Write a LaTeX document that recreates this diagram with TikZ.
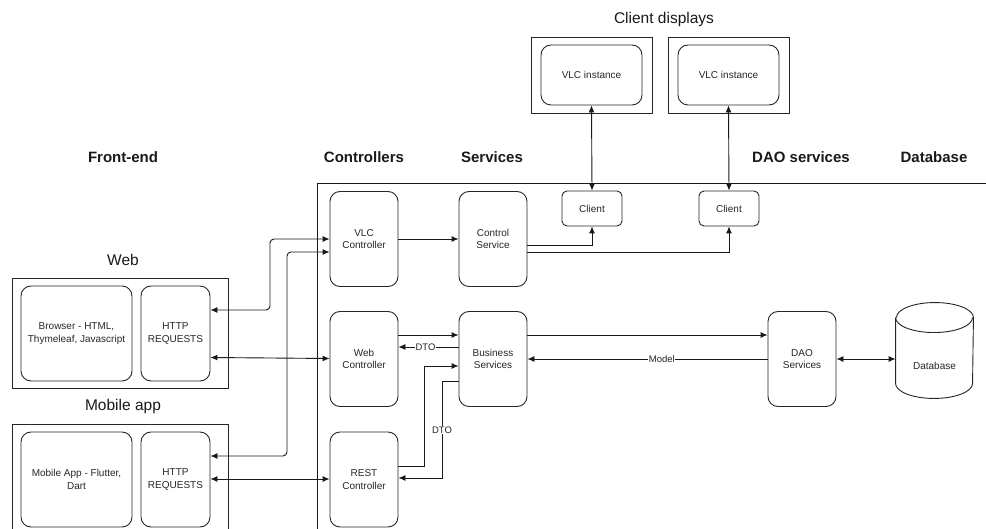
\documentclass[tikz,border=0pt]{standalone}
\usepackage{fontspec}
\setmainfont{Liberation Sans}
\usetikzlibrary{arrows.meta}
\begin{document}
\begin{tikzpicture}[x=1pt,y=-1pt,
  line width=0.9pt,
  box/.style={draw=black!85, rounded corners=10pt, align=center, inner sep=0pt,
    font=\fontsize{10}{12.5}\selectfont, text=black!85},
  ctlbox/.style={box, minimum width=68pt, minimum height=95pt},
  smallbox/.style={box, rounded corners=5pt, minimum width=60pt, minimum height=35pt},
  frame/.style={draw=black!85, inner sep=0pt},
  heading/.style={font=\fontsize{15}{18}\selectfont\bfseries, text=black!90},
  title/.style={font=\fontsize{15.5}{18}\selectfont, text=black!90},
  tag/.style={fill=white, inner sep=0.5pt, font=\fontsize{9.5}{11}\selectfont, text=black!85},
  arr/.style={draw=black!90, -{Latex[length=7pt,width=6pt]}},
  biarr/.style={draw=black!90, {Latex[length=7pt,width=6pt]}-{Latex[length=7pt,width=6pt]}},
]
\useasboundingbox (0,0) rectangle (986,529);

% column headings
\node[heading] (hfront) at (123,157) {Front-end};
\node[heading] (hctrl) at (364,157) {Controllers};
\node[heading] (hserv) at (492,157) {Services};
\node[heading] (hdao) at (801,157) {DAO services};
\node[heading] (hdb) at (934,157) {Database};

% back-end container
\draw[black!90] (317,540) -- (317,183) -- (990,183);

% client displays
\node[title] (hdisp) at (664,19) {Client displays};
\node[frame, minimum width=121pt, minimum height=76pt] (disp1) at (591.5,75) {};
\node[frame, minimum width=121pt, minimum height=76pt] (disp2) at (728.5,75) {};
\node[box, minimum width=101pt, minimum height=60pt] (vlc1) at (591.5,75) {VLC instance};
\node[box, minimum width=101pt, minimum height=60pt] (vlc2) at (728.5,75) {VLC instance};

% controllers and services
\node[ctlbox] (vlcc) at (364,239) {VLC\\Controller};
\node[ctlbox] (ctrl) at (493,239) {Control\\Service};
\node[smallbox] (cl1) at (592,208.5) {Client};
\node[smallbox] (cl2) at (729,208.5) {Client};
\node[ctlbox] (webc) at (364,359) {Web\\Controller};
\node[ctlbox] (bus) at (493,359) {Business\\Services};
\node[ctlbox] (restc) at (364,479.5) {REST\\Controller};
\node[ctlbox] (dao) at (802,359) {DAO\\Services};

% database cylinder
\node[minimum width=77pt, minimum height=95pt, inner sep=0pt] (db) at (934.5,350.5) {};
\path (db.north west) ++(0,15) coordinate (dbtl)
  (db.north east) ++(0,15) coordinate (dbtr)
  (db.south west) ++(0,-15) coordinate (dbbl)
  (db.south east) ++(0,-15) coordinate (dbbr);
\draw[black!85, fill=white] (dbtl) -- (dbbl) arc[start angle=180, end angle=360, x radius=38.5pt, y radius=15pt] -- (dbtr)
  arc[start angle=0, end angle=180, x radius=38.5pt, y radius=15pt];
\draw[black!85] (dbtl) arc[start angle=180, end angle=360, x radius=38.5pt, y radius=15pt];
\node[font=\fontsize{10}{12.5}\selectfont, text=black!85] (dbtext) at (934.5,366) {Database};

% front-end: web
\node[title] (hweb) at (123,260) {Web};
\node[frame, minimum width=216pt, minimum height=110pt] (webframe) at (120,333) {};
\node[box, minimum width=111pt, minimum height=95pt] (browser) at (76.5,333.5) {Browser - HTML,\\Thymeleaf, Javascript};
\node[box, minimum width=69pt, minimum height=95pt] (http1) at (175.5,333.5) {HTTP\\REQUESTS};

% front-end: mobile app
\node[title] (hmob) at (123,406) {Mobile app};
\draw[black!85] (12,540) -- (12,424) -- (228,424) -- (228,540);
\node[box, minimum width=111pt, minimum height=95pt] (mob) at (76.5,479.5) {Mobile App - Flutter,\\Dart};
\node[box, minimum width=69pt, minimum height=95pt] (http2) at (175.5,479.5) {HTTP\\REQUESTS};

% front-end to controllers
\draw[biarr, rounded corners=4pt] (http1.east |- 0,310) -| (270,239) -- (vlcc.west |- 0,239);
\draw[biarr] (http1.east |- 0,357.5) -- (webc.west |- 0,358.5);
\draw[biarr, rounded corners=4pt] (http2.east |- 0,456) -| (287,252) -- (vlcc.west |- 0,252);
\draw[biarr] (http2.east |- 0,479) -- (restc.west |- 0,479);

% VLC control path
\draw[arr] (vlcc.east) -- (ctrl.west);
\draw[arr] (ctrl.east |- 0,245) -| (cl1.south);
\draw[arr] (ctrl.east |- 0,252) -| (cl2.south);
\draw[biarr] (vlc1.south) -- (cl1.north);
\draw[biarr] (vlc2.south) -- (cl2.north);

% business flow
\draw[arr] (webc.east |- 0,335) -- (bus.west |- 0,335);
\draw[arr] (bus.west |- 0,347) -- node[tag, pos=0.55] (dto1) {DTO} (webc.east |- 0,347);
\draw[arr] (restc.east |- 0,466) -| (424,366) -- (bus.west |- 0,366);
\draw[arr] (bus.west |- 0,381) -| (442,478) -- (restc.east |- 0,478);
\node[tag] (dto2) at (442,430) {DTO};
\draw[arr] (bus.east |- 0,335) -- (dao.west |- 0,335);
\draw[arr] (dao.west |- 0,359) -- node[tag, pos=0.44] (model) {Model} (bus.east |- 0,359);
\draw[biarr] (dao.east) -- (db.west |- dao.east);
\end{tikzpicture}
\end{document}
